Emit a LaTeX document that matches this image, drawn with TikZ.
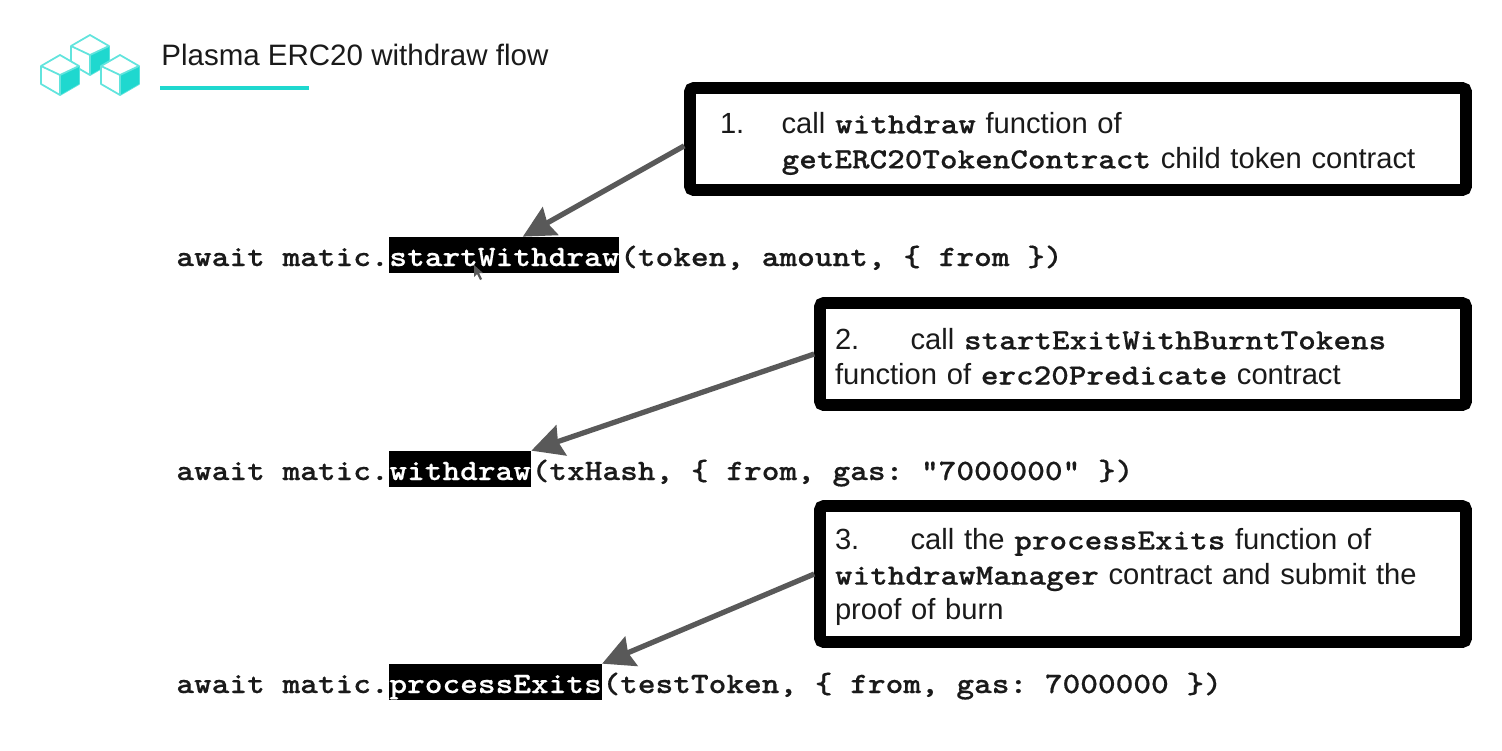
\documentclass[tikz,border=0pt]{standalone}
\usepackage{fontspec}
\setmainfont{Liberation Sans}
\setmonofont[FakeStretch=1.142,FakeBold=0.5]{Latin Modern Mono Light}
\usetikzlibrary{positioning,arrows.meta}

\definecolor{tealmark}{HTML}{1FD8CF}
\definecolor{arrowgray}{HTML}{595959}
\definecolor{inktext}{HTML}{1A1A1A}

\newcommand{\cw}[1]{{\fontsize{16.7}{20}\selectfont\ttfamily\bfseries #1}}

\begin{document}
\begin{tikzpicture}[x=0.02cm, y=-0.02cm]

    % --- Styles ---
    \tikzset{
        callbox/.style={draw=black, fill=white, line width=6.6pt, rounded corners=2pt, inner sep=0pt, text=inktext, align=left, font=\fontsize{16.6}{20}\selectfont},
        codetext/.style={inner sep=0pt, text=inktext, font=\fontsize{16.8}{20}\selectfont\ttfamily\bfseries},
        codemark/.style={codetext, fill=black, text=white, text height=16.5pt, text depth=4pt},
        callarrow/.style={draw=arrowgray, line width=3pt, -{Stealth[length=18pt, width=18pt, inset=2pt]}},
        cubeline/.style={draw=tealmark!70, line width=1pt, line join=round},
        cubeicon/.pic={
            \filldraw[cubeline, fill=white] (0,-20) -- (19,-9) -- (19,9) -- (0,20) -- (-19,9) -- (-19,-9) -- cycle;
            \fill[tealmark] (0,0) -- (19,-9) -- (19,9) -- (0,20) -- cycle;
            \draw[cubeline] (-19,-9) -- (0,0) -- (19,-9);
            \draw[cubeline] (0,0) -- (0,20);
        }
    }

    \useasboundingbox (0,0) rectangle (1502,751);

    % --- 1. Header ---
    \pic at (90,55) {cubeicon};
    \pic at (60,75) {cubeicon};
    \pic at (120,75) {cubeicon};

    \node[anchor=base west, inner sep=0pt, text=inktext, font=\fontsize{16.8}{20}\selectfont] (title) at (161,65) {Plasma ERC20 withdraw flow};
    \draw[tealmark, line width=2.6pt] (160,88) -- (309,88);

    % --- 2. Code lines ---
    \node[codetext, anchor=base west] (await1) at (176,266) {await matic.};
    \node[codemark, base right=0pt of await1] (mark1) {startWithdraw};
    \node[codetext, base right=0pt of mark1] (args1) {(token, amount, \{ from \})};

    \node[codetext, anchor=base west] (await2) at (176,480) {await matic.};
    \node[codemark, base right=0pt of await2] (mark2) {withdraw};
    \node[codetext, base right=0pt of mark2] (args2) {(txHash, \{ from, gas: "7000000" \})};

    \node[codetext, anchor=base west] (await3) at (176,693) {await matic.};
    \node[codemark, base right=0pt of await3] (mark3) {processExits};
    \node[codetext, base right=0pt of mark3] (args3) {(testToken, \{ from, gas: 7000000 \})};

    % mouse pointer
    \fill[arrowgray] (474,265) -- (474,277) -- (477,274) -- (480,280) -- (482,279) -- (479,273) -- (483,273) -- cycle;

    % --- 3. Call boxes ---
    % the rule at the start of each text only lowers it a little inside its box
    \node[callbox, minimum width=776*0.02cm, minimum height=102*0.02cm, text width=716*0.02cm] (box1) at (1078,139)
        {\rule{0pt}{17.2pt}\makebox[35.1pt][l]{1.}call \cw{withdraw} function of\\\hspace*{35.1pt}\cw{getERC20TokenContract} child token contract};
    \node[callbox, minimum width=646*0.02cm, minimum height=102*0.02cm, text width=616*0.02cm] (box2) at (1143,354)
        {\rule{0pt}{14.9pt}\makebox[43pt][l]{2.}call \cw{startExitWithBurntTokens}\\function of \cw{erc20Predicate} contract};
    \node[callbox, minimum width=646*0.02cm, minimum height=136*0.02cm, text width=616*0.02cm] (box3) at (1143,574)
        {\rule{0pt}{15.5pt}\makebox[43pt][l]{3.}call the \cw{processExits} function of\\\cw{withdrawManager} contract and submit the\\proof of burn};

    % --- 4. Arrows ---
    \draw[callarrow] (box1.181) -- (mark1.45);
    \draw[callarrow] (box2.180.8) -- (mark2.north east);
    \draw[callarrow] (box3.180.5) -- (mark3.north east);

\end{tikzpicture}
\end{document}
